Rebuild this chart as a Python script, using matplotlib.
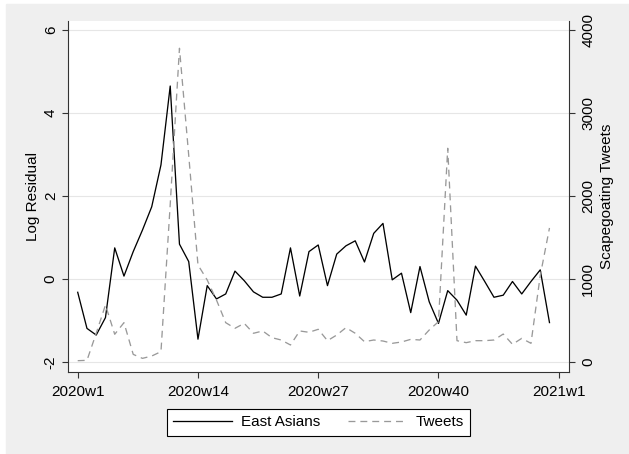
import matplotlib
matplotlib.use("Agg")
import matplotlib.pyplot as plt
from matplotlib.patches import Rectangle

plt.rcParams['font.family'] = ['Liberation Sans', 'DejaVu Sans']
plt.rcParams['axes.unicode_minus'] = False

# weekly series, 2020w1 .. 2020w52 (index 0..51)
weeks = list(range(52))

east_asians = [-0.32, -1.19, -1.35, -0.93, 0.75, 0.07, 0.66, 1.18, 1.74, 2.75,
               4.65, 0.84, 0.42, -1.45, -0.16, -0.48, -0.36, 0.19, -0.04, -0.31,
               -0.44, -0.44, -0.36, 0.75, -0.41, 0.66, 0.82, -0.16, 0.60, 0.80,
               0.92, 0.41, 1.10, 1.34, -0.02, 0.14, -0.81, 0.30, -0.55, -1.07,
               -0.28, -0.51, -0.87, 0.31, -0.06, -0.44, -0.39, -0.06, -0.36, -0.06,
               0.22, -1.05]

tweets = [16, 20, 346, 687, 334, 474, 92, 44, 72, 125,
          1900, 3780, 2490, 1170, 988, 747, 474, 406, 466, 346,
          374, 293, 265, 205, 374, 358, 394, 257, 325, 414,
          346, 245, 265, 253, 225, 241, 273, 265, 386, 486,
          2575, 257, 233, 257, 257, 265, 337, 213, 285, 225,
          1040, 1615]

xtick_pos = [0, 13, 26, 39, 52]
xtick_labels = ['2020w1', '2020w14', '2020w27', '2020w40', '2021w1']
left_ticks = [-2, 0, 2, 4, 6]
right_ticks = [0, 1000, 2000, 3000, 4000]

W, H = 629, 454
fig = plt.figure(figsize=(W / 100, H / 100), dpi=100, facecolor='white')
# stata-like gray graph region
fig.patches.append(Rectangle((6 / W, 0), 1 - 6 / W, 1 - 4 / H,
                             transform=fig.transFigure, color='#efefef', zorder=-10))

ax = fig.add_axes([68 / W, 1 - 372.3 / H, (569 - 68) / W, (372.3 - 20.7) / H])
ax.set_facecolor('white')
ax2 = ax.twinx()

lw = 0.94
spine_col = '#333333'

l1, = ax.plot(weeks, east_asians, color='black', lw=lw, label='East Asians')
l2, = ax2.plot(weeks, tweets, color='#999999', lw=lw, dashes=(5.3, 3.8), label='Tweets')

ax.set_xlim(-1.05, 53.11)
ax.set_ylim(-2.248, 6.224)
ax2.set_ylim(-124, 4112)

ax.set_xticks(xtick_pos)
ax.set_xticklabels(xtick_labels)
ax.set_yticks(left_ticks)
ax2.set_yticks(right_ticks)

ax.yaxis.grid(True, color='#e6e6e6', lw=0.8)
ax.set_axisbelow(True)

for a in (ax, ax2):
    a.spines['top'].set_visible(False)
    for s in a.spines.values():
        s.set_color(spine_col)
        s.set_linewidth(0.8)
ax2.spines['left'].set_visible(False)
ax2.spines['bottom'].set_visible(False)
ax.spines['right'].set_visible(False)

ax.tick_params(axis='x', direction='out', length=4.3, width=0.8, color=spine_col,
               labelsize=11, pad=5.2)
ax.tick_params(axis='y', direction='out', length=4.3, width=0.8, color=spine_col,
               labelsize=11, pad=3, labelrotation=90)
ax2.tick_params(axis='y', direction='out', length=4.3, width=0.8, color=spine_col,
                labelsize=11, pad=4.6, labelrotation=90)
for t in ax.get_yticklabels() + ax2.get_yticklabels():
    t.set_verticalalignment('center')

ax.set_ylabel('Log Residual', fontsize=11)
ax.yaxis.label.set_verticalalignment('center')
ax.yaxis.set_label_coords((33.5 - 68) / 501, 0.5)
ax2.set_ylabel('Scapegoating Tweets', fontsize=11, rotation=90)
ax2.yaxis.label.set_verticalalignment('center')
ax2.yaxis.set_label_coords((606.5 - 68) / 501, 0.5)

leg = fig.legend([l1, l2], ['East Asians', 'Tweets'], loc='center',
                 bbox_to_anchor=(318.5 / W, 1 - 422.5 / H), ncol=2, fontsize=11,
                 frameon=True, fancybox=False, edgecolor='black', framealpha=1,
                 handlelength=3.86, handletextpad=0.61, columnspacing=1.8,
                 borderpad=0.4)
leg.get_frame().set_linewidth(0.8)

fig.savefig('out.png', dpi=100, facecolor=fig.get_facecolor())
